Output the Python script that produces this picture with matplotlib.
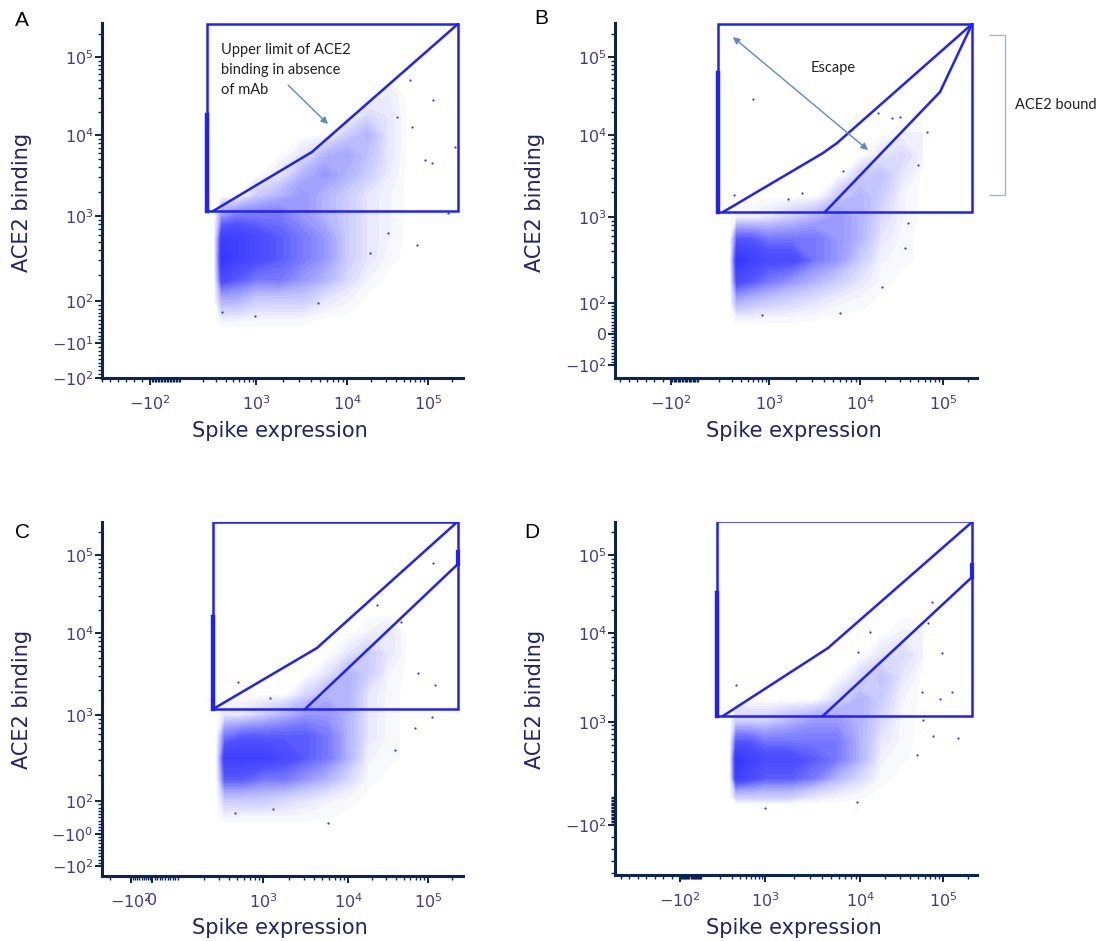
import numpy as np
import matplotlib.pyplot as plt
from matplotlib.colors import LinearSegmentedColormap
from matplotlib.lines import Line2D

plt.rcParams['mathtext.fontset'] = 'dejavusans'

W, H = 1102, 941

# ---------------- data ----------------
# density of events on a node grid (log10 of the value), rows from top to bottom
node_x_exp = [2.45, 2.55, 2.75, 3.0, 3.25, 3.5, 3.75, 4.0, 4.25, 4.5, 4.75]
node_y_exp = [4.75, 4.5, 4.25, 4.0, 3.75, 3.5, 3.25, 3.0, 2.75, 2.5, 2.25, 2.0, 1.7, 1.4]

dens_a = [
    [0, 0, 0, 0, 0, 0, 0, 0, 0, 0, 0],
    [0, 0, 0, 0, 0, 0, 0, 0, 0, 0.8, 0],
    [0, 0, 0, 0, 0, 0, 0, 0, 1.5, 1, 0],
    [0, 0, 0, 0, 0, 0, 0, 2, 3, 1, 0],
    [0, 0, 0, 0, 0, 1, 3, 3.5, 2.5, 1, 0],
    [0, 0, 0, 0, 1, 3, 4, 3, 2, 0.8, 0],
    [0, 0, 0, 2, 3, 4, 3, 2, 1, 0.5, 0],
    [0, 4, 5, 5, 5, 4, 3, 2, 1, 0.5, 0],
    [0, 8, 8, 7, 6, 5, 4, 2, 1, 0.5, 0],
    [0, 9, 8, 7, 6, 5, 4, 2, 1, 0.3, 0],
    [0, 7, 6, 5, 5, 4, 3, 1.5, 0.5, 0, 0],
    [0, 3, 3, 2, 2, 2, 1, 0.5, 0, 0, 0],
    [0, 0.5, 0.5, 0.3, 0.3, 0.3, 0, 0, 0, 0, 0],
    [0, 0, 0, 0, 0, 0, 0, 0, 0, 0, 0],
]
dens_b = [
    [0, 0, 0, 0, 0, 0, 0, 0, 0, 0, 0],
    [0, 0, 0, 0, 0, 0, 0, 0, 0, 0, 0],
    [0, 0, 0, 0, 0, 0, 0, 0, 0, 0, 0],
    [0, 0, 0, 0, 0, 0, 0, 0, 0, 0.5, 0.5],
    [0, 0, 0, 0, 0, 0, 0, 0, 1, 1.5, 0.5],
    [0, 0, 0, 0, 0, 0, 0, 2, 2.5, 1, 0],
    [0, 0, 0, 0, 0, 0, 2, 3, 2, 0.5, 0],
    [0, 0.5, 0.5, 1, 2, 3, 4, 3, 1.5, 0.5, 0],
    [0, 6, 6, 5, 5, 5, 4, 3, 1, 0.3, 0],
    [0, 9, 8, 7, 7, 5, 4, 2, 0.5, 0.3, 0],
    [0, 7, 6, 5, 4, 3, 2, 1, 0.3, 0, 0],
    [0, 3, 2.5, 2, 1.5, 1, 0.5, 0.3, 0, 0, 0],
    [0, 0.5, 0.5, 0.3, 0.3, 0.2, 0, 0, 0, 0, 0],
    [0, 0, 0, 0, 0, 0, 0, 0, 0, 0, 0],
]
dens_c = [
    [0, 0, 0, 0, 0, 0, 0, 0, 0, 0, 0],
    [0, 0, 0, 0, 0, 0, 0, 0, 0, 0, 0],
    [0, 0, 0, 0, 0, 0, 0, 0, 0, 0, 0],
    [0, 0, 0, 0, 0, 0, 0, 0, 0.5, 1, 0],
    [0, 0, 0, 0, 0, 0, 0, 1, 2, 1, 0],
    [0, 0, 0, 0, 0, 0, 1, 3, 2, 0.5, 0],
    [0, 0, 0, 0, 0, 1.5, 3, 3, 1, 0.3, 0],
    [0, 1, 1, 2, 3, 4, 4, 3, 1, 0.3, 0],
    [0, 5, 6, 6, 6, 6, 5, 3, 1, 0.3, 0],
    [0, 8, 8, 8, 7, 6, 5, 3, 0.5, 0.3, 0],
    [0, 6, 6, 5, 5, 4, 3, 1.5, 0.3, 0, 0],
    [0, 2, 2, 2, 1.5, 1, 0.5, 0.3, 0, 0, 0],
    [0, 0.5, 0.3, 0.3, 0.3, 0.3, 0.2, 0, 0, 0, 0],
    [0, 0, 0, 0, 0, 0, 0, 0, 0, 0, 0],
]
dens_d = [
    [0, 0, 0, 0, 0, 0, 0, 0, 0, 0, 0],
    [0, 0, 0, 0, 0, 0, 0, 0, 0, 0, 0],
    [0, 0, 0, 0, 0, 0, 0, 0, 0, 0, 0],
    [0, 0, 0, 0, 0, 0, 0, 0, 0, 0.5, 0.5],
    [0, 0, 0, 0, 0, 0, 0, 0, 1, 1.5, 0.5],
    [0, 0, 0, 0, 0, 0, 0, 1.5, 2.5, 1, 0],
    [0, 0, 0, 0, 0, 0, 1.5, 3, 2, 0.5, 0],
    [0, 2, 2, 2, 3, 4, 4, 3, 1.5, 0.3, 0],
    [0, 6, 6, 5, 5, 5, 5, 3, 1, 0.3, 0],
    [0, 9, 8, 7, 7, 6, 5, 3, 0.5, 0.2, 0],
    [0, 8, 7, 6, 6, 5, 3, 1.5, 0.3, 0, 0],
    [0, 2, 2, 2, 2, 1, 0.5, 0.2, 0, 0, 0],
    [0, 0, 0, 0, 0, 0, 0, 0, 0, 0, 0],
    [0, 0, 0, 0, 0, 0, 0, 0, 0, 0, 0],
]

# isolated events (spike, ACE2)
out_a_x = [115000, 215000, 92000, 112000, 73100, 177000, 63400, 41400, 4800, 970, 357, 60000, 32100, 19200]
out_a_y = [28100, 7110, 4910, 4510, 456, 1090, 12700, 17000, 95, 61, 71, 50700, 631, 367]
out_b_x = [596, 321, 2310, 1620, 16500, 24300, 30300, 64100, 6500, 18400, 6030, 794, 37800, 34800, 50000]
out_b_y = [29000, 1850, 1950, 1660, 19100, 16500, 17000, 10900, 3600, 153, 68, 61, 850, 437, 4270]
out_c_x = [115000, 22900, 46400, 122000, 75000, 112000, 68700, 38700, 508, 1210, 5820, 469, 1310]
out_c_y = [78900, 22900, 13800, 2320, 3250, 950, 706, 392, 2520, 1610, 32, 63, 75]
out_d_x = [352, 13200, 9550, 73600, 65900, 97300, 128000, 92000, 55800, 152000, 75900, 48600, 1000, 9290, 58100]
out_d_y = [2610, 10300, 6120, 24900, 13400, 5960, 2170, 1810, 2170, 612, 650, 363, 21, 64, 1050]

# gates
gate_a_x = [226, 234000]
gate_a_y = [1150, 265000]
upper_a_x = [272, 4120, 234000]
upper_a_y = [1150, 6170, 265000]
edge_a_y = [1150, 18000]

gate_b_x = [191, 224000]
gate_b_y = [1150, 265000]
upper_b_x = [225, 3920, 5590, 224000]
upper_b_y = [1150, 6030, 7980, 265000]
lower_b_x = [4120, 92000, 224000]
lower_b_y = [1150, 35600, 265000]
edge_b_y = [1150, 62400]

gate_c_x = [258, 237000]
gate_c_y = [1180, 265000]
upper_c_x = [258, 4310, 224000]
upper_c_y = [1180, 6560, 257000]
lower_c_x = [3120, 237000]
lower_c_y = [1180, 76800]
edge_c_y = [1180, 16000]

gate_d_x = [178, 224000]
gate_d_y = [1170, 273000]
upper_d_x = [221, 4600, 224000]
upper_d_y = [1170, 6780, 265000]
lower_d_x = [4070, 224000]
lower_d_y = [1170, 52200]
edge_d_y = [1170, 32600]

# tick labels
xt_ab = [-100, 1000, 10000, 100000]
xl_ab = ['$-10^{2}$', '$10^{3}$', '$10^{4}$', '$10^{5}$']
xt_c = [-100, 0, 1000, 10000, 100000]
xl_c = ['$-10^{2}$', '0', '$10^{3}$', '$10^{4}$', '$10^{5}$']
yt_a = [-100, -10, 100, 1000, 10000, 100000]
yl_a = ['$-10^{2}$', '$-10^{1}$', '$10^{2}$', '$10^{3}$', '$10^{4}$', '$10^{5}$']
yt_b = [-100, 0, 100, 1000, 10000, 100000]
yl_b = ['$-10^{2}$', '0', '$10^{2}$', '$10^{3}$', '$10^{4}$', '$10^{5}$']
yt_c = [-100, -1, 100, 1000, 10000, 100000]
yl_c = ['$-10^{2}$', '$-10^{0}$', '$10^{2}$', '$10^{3}$', '$10^{4}$', '$10^{5}$']
yt_d = [-100, 1000, 10000, 100000]
yl_d = ['$-10^{2}$', '$10^{3}$', '$10^{4}$', '$10^{5}$']

# ---------------- layout: biexponential axes, anchored on the page ----------------
# (value, pixel) pairs of each axis
xs_a = ([-700, -100, 100, 1000, 10000, 100000], [102, 150, 180, 256, 347, 428])
xs_b = ([-800, -100, 100, 1000, 10000, 100000], [612, 671, 698, 769, 860, 943])
xs_c = ([-200, -100, 0, 100, 1000, 10000, 100000], [110, 131, 152, 178, 263, 348, 428])
xs_d = ([-900, -100, 100, 1000, 10000, 100000], [612, 680, 701, 765, 860, 943])
ys_a = ([-100, 100, 1000, 10000, 100000], [378, 301, 216, 135, 57])
ys_b = ([-100, 100, 1000, 10000, 100000], [365, 303, 217, 135, 57])
ys_c = ([-100, 100, 1000, 10000, 100000], [866, 801, 715, 633, 555])
ys_d = ([-500, -100, 100, 1000, 10000, 100000], [873, 825, 797, 722, 633, 555])

NAVY = '#0b2452'
TICKC = '#463a8e'
LABC = '#22226e'
GATE = '#2020ff'
NOTE = '#5b8ac6'


def g_of(v):
    v = np.asarray(v, float)
    return np.where(v > 100, 1 + np.log10(np.maximum(v, 100) / 100), v / 100)


def v_of(g):
    g = np.asarray(g, float)
    return np.where(g > 1, 100 * 10 ** (np.minimum(g, 12) - 1), g * 100)


def lin(x, xp, fp):
    x = np.asarray(x, float)
    y = np.interp(x, xp, fp)
    lo = fp[0] + (x - xp[0]) * (fp[1] - fp[0]) / (xp[1] - xp[0])
    hi = fp[-1] + (x - xp[-1]) * (fp[-1] - fp[-2]) / (xp[-1] - xp[-2])
    return np.where(x < xp[0], lo, np.where(x > xp[-1], hi, y))


def make_scale(vals, pix, flip=False):
    gs = g_of(vals)
    p = -np.asarray(pix, float) if flip else np.asarray(pix, float)
    return (lambda v: lin(g_of(v), gs, p)), (lambda t: v_of(lin(t, p, gs)))


minor = [k * 10 ** n for n in (2, 3, 4) for k in range(1, 10)] + [200000]
minor += list(range(-90, 100, 10)) + [-100 * k for k in range(1, 10)]

cmap = LinearSegmentedColormap.from_list('ev', ['#ffffff', '#b0b0ff', '#5252ff', '#3030ff'])
levels = np.linspace(0.15, 9.5, 32)

fig = plt.figure(figsize=(W / 100, H / 100), dpi=100)


def fig_xy(x, y):
    return x / W, 1 - y / H


def panel(box, xs, ys, xt, xl, yt, yl, dens, ox, oy, gx, gy, ux, uy, lx, ly, ey,
          letter, letter_xy, ylab_xy, xlab_xy):
    l, t, r, b = box
    ax = fig.add_axes([l / W, 1 - b / H, (r - l) / W, (b - t) / H])
    fx, ix = make_scale(*xs)
    fy, iy = make_scale(*ys, flip=True)
    ax.set_xscale('function', functions=(fx, ix))
    ax.set_yscale('function', functions=(fy, iy))

    ax.contourf(10 ** np.array(node_x_exp), 10 ** np.array(node_y_exp)[::-1],
                np.array(dens)[::-1], levels=levels, cmap=cmap, vmin=0, vmax=9.5,
                antialiased=False, zorder=1)
    ax.scatter(ox, oy, s=2.5, color='#3030ff', linewidths=0, zorder=2)

    ax.plot([gx[0], gx[1], gx[1], gx[0], gx[0]], [gy[0], gy[0], gy[1], gy[1], gy[0]],
            color=GATE, lw=1.8, zorder=3, solid_joinstyle='miter')
    ax.plot(ux, uy, color=GATE, lw=1.8, zorder=3)
    if lx is not None:
        ax.plot(lx, ly, color=GATE, lw=1.8, zorder=3)
    ax.plot([gx[0], gx[0]], ey, color=GATE, lw=3.2, zorder=3)

    for s in ('top', 'right'):
        ax.spines[s].set_visible(False)
    for s in ('left', 'bottom'):
        ax.spines[s].set_linewidth(2.2)
        ax.spines[s].set_color(NAVY)
    ax.set_xticks(xt, xl)
    ax.set_yticks(yt, yl)
    ax.set_xticks([m for m in minor if m not in xt], minor=True)
    ax.set_yticks([m for m in minor if m not in yt], minor=True)
    ax.tick_params(which='major', length=5, width=1.4, color=NAVY, labelcolor=TICKC,
                   labelsize=11.5, direction='out')
    ax.tick_params(which='minor', length=3, width=1.0, color=NAVY, direction='out')
    ax.tick_params(axis='x', which='major', pad=7)
    ax.tick_params(axis='y', which='major', pad=1)
    ax.set_facecolor('none')

    # limits last: setting ticks widens the view
    ax.set_xlim(float(ix(l)), float(ix(r)))
    ax.set_ylim(float(iy(-b)), float(iy(-t)))
    ax.autoscale(False)

    fig.text(*fig_xy(*letter_xy), letter, fontsize=15, family='Liberation Sans',
             ha='center', va='center', color='black')
    fig.text(*fig_xy(*ylab_xy), 'ACE2 binding', fontsize=15, rotation=90,
             ha='center', va='center', color=LABC)
    fig.text(*fig_xy(*xlab_xy), 'Spike expression', fontsize=15,
             ha='center', va='center', color=LABC)
    return ax


ax_a = panel((102, 23, 463, 378), xs_a, ys_a, xt_ab, xl_ab, yt_a, yl_a, dens_a,
             out_a_x, out_a_y, gate_a_x, gate_a_y, upper_a_x, upper_a_y, None, None,
             edge_a_y, 'A', (22, 20), (22, 202), (280, 431))
ax_b = panel((615, 23, 977, 378), xs_b, ys_b, xt_ab, xl_ab, yt_b, yl_b, dens_b,
             out_b_x, out_b_y, gate_b_x, gate_b_y, upper_b_x, upper_b_y, lower_b_x, lower_b_y,
             edge_b_y, 'B', (541, 19), (535, 202), (794, 431))
ax_c = panel((102, 522, 463, 876), xs_c, ys_c, xt_c, xl_c, yt_c, yl_c, dens_c,
             out_c_x, out_c_y, gate_c_x, gate_c_y, upper_c_x, upper_c_y, lower_c_x, lower_c_y,
             edge_c_y, 'C', (23, 533), (22, 699), (280, 928))
ax_d = panel((615, 522, 977, 875), xs_d, ys_d, xt_ab, xl_ab, yt_d, yl_d, dens_d,
             out_d_x, out_d_y, gate_d_x, gate_d_y, upper_d_x, upper_d_y, lower_d_x, lower_d_y,
             edge_d_y, 'D', (532, 533), (535, 699), (794, 928))

# short thick bits on the right gate edge (C, D)
ax_c.plot([gate_c_x[1]] * 2, [76800, 110000], color=GATE, lw=3, zorder=3)
ax_d.plot([gate_d_x[1]] * 2, [52200, 75000], color=GATE, lw=3, zorder=3)

# annotations
ax_a.text(346, 150000, 'Upper limit of ACE2\nbinding in absence\nof mAb', family='Lato',
          fontsize=10.5, color='#222222', ha='left', va='top', linespacing=1.55, zorder=4)
ax_a.annotate('', xy=(6180, 13800), xytext=(2250, 43700),
              arrowprops=dict(arrowstyle='-|>', color=NOTE, lw=1, mutation_scale=10,
                              shrinkA=0, shrinkB=0), zorder=4)
ax_b.text(5050, 72300, 'Escape', family='Lato', fontsize=10.5, color='#222222',
          ha='center', va='center', zorder=4)
ax_b.annotate('', xy=(12500, 6560), xytext=(310, 180000),
              arrowprops=dict(arrowstyle='<|-|>', color=NOTE, lw=1, mutation_scale=10,
                              shrinkA=0, shrinkB=0), zorder=4)

# "ACE2 bound" bracket beside panel B
bx = [990, 1005, 1005, 990]
by = [35, 35, 195, 195]
fig.add_artist(Line2D([x / W for x in bx], [1 - y / H for y in by], color='#9fb4d8',
                      lw=1, transform=fig.transFigure))
fig.text(*fig_xy(1015, 105), 'ACE2 bound', family='Lato', fontsize=10.5, color='#222222',
         ha='left', va='center')

fig.savefig('out.png', dpi=100)
